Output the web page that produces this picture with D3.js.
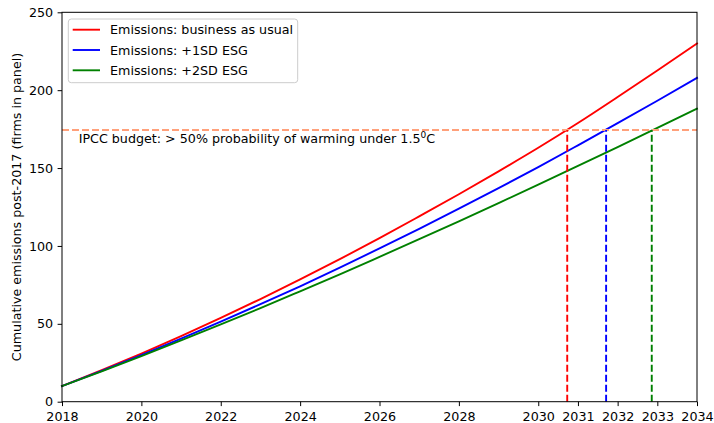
<!DOCTYPE html>
<html>
<head>
<meta charset="utf-8">
<script src="https://cdn.jsdelivr.net/npm/d3@7"></script>
<style>
  html, body { margin: 0; padding: 0; background: #fff; }
  svg { display: block; font-family: "DejaVu Sans", sans-serif; }
</style>
</head>
<body>
<svg id="chart" width="714" height="423"></svg>
<script>
// Years of the projection
const years = [2018, 2019, 2020, 2021, 2022, 2023, 2024, 2025, 2026,
               2027, 2028, 2029, 2030, 2031, 2032, 2033, 2034];

// Cumulative emissions post-2017 (firms in panel)
const businessAsUsual = [10, 20.2, 30.9, 42.1, 53.8, 65.9, 78.5, 91.5, 105.0,
                         119.0, 133.2, 147.9, 163.0, 178.9, 195.6, 212.6, 230.0];
const plus1SD = [10, 19.8, 29.9, 40.5, 51.4, 62.6, 74.1, 86.1, 98.4,
                 111.0, 123.9, 137.1, 150.6, 164.6, 178.8, 193.2, 207.9];
const plus2SD = [10, 19.5, 29.3, 39.3, 49.6, 60.1, 70.9, 81.8, 93.0,
                 104.3, 115.8, 127.5, 139.4, 151.4, 163.5, 175.8, 188.1];

// Carbon budget and the year each path exhausts it
const budget = 174.4;
const exhaustYears = [2030.73, 2031.71, 2032.86];

const seriesNames = ["Emissions: business as usual", "Emissions: +1SD ESG", "Emissions: +2SD ESG"];
const seriesColors = ["#ff0000", "#0000ff", "#008000"];
const seriesValues = [businessAsUsual, plus1SD, plus2SD];

const xTicks = [2018, 2020, 2022, 2024, 2026, 2028, 2030, 2031, 2032, 2033, 2034];
const yTicks = [0, 50, 100, 150, 200, 250];
const budgetLabel = "IPCC budget: > 50% probability of warming under 1.5";

const svg = d3.select("#chart");
const margin = { left: 62, right: 17, top: 12.3, bottom: 21.3 };
const W = 714, H = 423;

const x = d3.scaleLinear().domain([2018, 2034]).range([margin.left, W - margin.right]);
const y = d3.scaleLinear().domain([0, 250]).range([H - margin.bottom, margin.top]);

const fontSize = 12.7;

// Series lines
const line = d3.line()
  .x((d, i) => x(years[i]))
  .y(d => y(d))
  .curve(d3.curveMonotoneX);

seriesValues.forEach((vals, k) => {
  svg.append("path")
    .datum(vals)
    .attr("d", line)
    .attr("fill", "none")
    .attr("stroke", seriesColors[k])
    .attr("stroke-width", 1.9)
    .attr("stroke-linejoin", "round")
    .attr("stroke-linecap", "square");
});

// Budget line
svg.append("line")
  .attr("x1", x(2018)).attr("x2", x(2034))
  .attr("y1", y(budget)).attr("y2", y(budget))
  .attr("stroke", "#ffa07a")
  .attr("stroke-width", 1.9)
  .attr("stroke-dasharray", "7,3");

// Vertical markers where each path crosses the budget
exhaustYears.forEach((yr, k) => {
  svg.append("line")
    .attr("x1", x(yr)).attr("x2", x(yr))
    .attr("y1", y(0)).attr("y2", y(budget))
    .attr("stroke", seriesColors[k])
    .attr("stroke-width", 1.9)
    .attr("stroke-dasharray", "7,3");
});

// Budget annotation
const ann = svg.append("text")
  .attr("x", x(2018.42))
  .attr("y", 143)
  .attr("font-size", fontSize)
  .attr("fill", "#000");
ann.append("tspan").text(budgetLabel);
ann.append("tspan").attr("font-size", 9).attr("dy", -5).text("0");
ann.append("tspan").attr("dy", 5).text("C");

// Frame
svg.append("rect")
  .attr("x", margin.left).attr("y", margin.top)
  .attr("width", W - margin.left - margin.right)
  .attr("height", H - margin.top - margin.bottom)
  .attr("fill", "none")
  .attr("stroke", "#000")
  .attr("stroke-width", 1);

// X axis
const xAxis = svg.append("g")
  .attr("transform", `translate(0,${y(0)})`)
  .call(d3.axisBottom(x).tickValues(xTicks).tickFormat(d3.format("d")).tickSize(4.4).tickPadding(5.5));
xAxis.select(".domain").remove();
xAxis.selectAll("line").attr("stroke", "#000").attr("stroke-width", 1);
xAxis.selectAll("text").attr("font-size", fontSize).attr("font-family", "DejaVu Sans").attr("fill", "#000");

// Y axis
const yAxis = svg.append("g")
  .attr("transform", `translate(${x(2018)},0)`)
  .call(d3.axisLeft(y).tickValues(yTicks).tickSize(4.4).tickPadding(4.5));
yAxis.select(".domain").remove();
yAxis.selectAll("line").attr("stroke", "#000").attr("stroke-width", 1);
yAxis.selectAll("text").attr("font-size", fontSize).attr("font-family", "DejaVu Sans").attr("fill", "#000");

// Y axis title
svg.append("text")
  .attr("transform", `translate(20.5,${(y(0) + y(250)) / 2}) rotate(-90)`)
  .attr("text-anchor", "middle")
  .attr("font-size", fontSize)
  .attr("fill", "#000")
  .text("Cumulative emissions post-2017 (firms in panel)");

// Legend
const legend = svg.append("g");
legend.append("rect")
  .attr("x", 68.3).attr("y", 19)
  .attr("width", 229.4).attr("height", 63.7)
  .attr("rx", 3).attr("ry", 3)
  .attr("fill", "#fff").attr("fill-opacity", 0.8)
  .attr("stroke", "#cccccc").attr("stroke-width", 1);

seriesNames.forEach((name, k) => {
  const ly = 29.7 + k * 20.3;
  legend.append("line")
    .attr("x1", 72.7).attr("x2", 100)
    .attr("y1", ly).attr("y2", ly)
    .attr("stroke", seriesColors[k])
    .attr("stroke-width", 1.9);
  legend.append("text")
    .attr("x", 110).attr("y", ly + 4.5)
    .attr("font-size", fontSize)
    .attr("fill", "#000")
    .text(name);
});
</script>
</body>
</html>
